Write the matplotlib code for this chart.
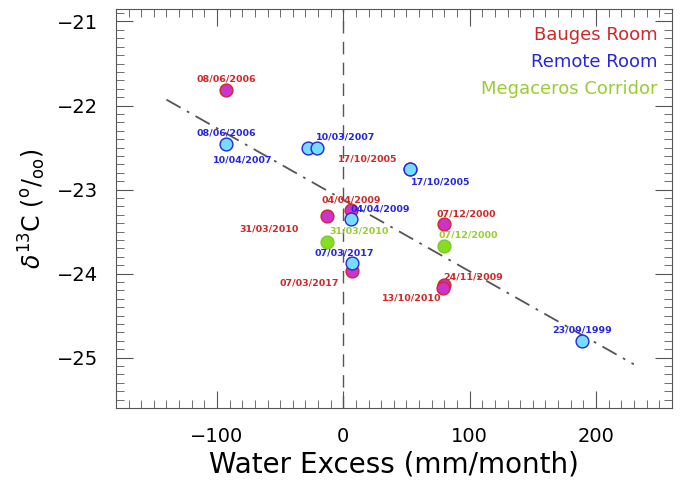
import numpy as np
import matplotlib
matplotlib.use("Agg")
import matplotlib.pyplot as plt
from matplotlib.ticker import MultipleLocator

# Bauges Room
bauges_dates = ['08/06/2006', '17/10/2005', '31/03/2010', '04/04/2009', '07/03/2017',
                '07/12/2000', '24/11/2009', '13/10/2010']
bauges_x = [-93, 53, -13, 6, 7, 80, 80, 79]
bauges_y = [-21.81, -22.75, -23.31, -23.24, -23.97, -23.41, -24.13, -24.17]

# Remote Room
remote_dates = ['08/06/2006', '10/04/2007', '10/03/2007', '17/10/2005', '04/04/2009',
                '07/03/2017', '23/09/1999']
remote_x = [-93, -28, -21, 53, 6, 7, 189]
remote_y = [-22.46, -22.51, -22.51, -22.75, -23.35, -23.87, -24.8]

# Megaceros Corridor
mega_dates = ['31/03/2010', '07/12/2000']
mega_x = [-13, 80]
mega_y = [-23.62, -23.67]

# regression line end points
fit_x = [-140, 230]
fit_y = [-21.93, -25.08]

# label offsets in pixels (dx, dy)
bauges_off = [(0, 11), (-43, 10), (-58, -13), (0, 10), (-43, -12), (22, 10), (29, 8), (-31, -10)]
remote_off = [(0, 11), (-65, -12), (29, 11), (30, -13), (29, 10), (-8, 10), (0, 11)]
mega_off = [(32, 11), (24, 11)]

red = '#d02828'
blue = '#2626e0'
green = '#9acd32'

fig = plt.figure(figsize=(6.82, 4.94), dpi=100)
ax = fig.add_axes([0.170, 0.174, 0.815, 0.808])

ax.axvline(0, color='#555555', lw=1.0, dashes=(9, 6), zorder=1)
ax.plot(fit_x, fit_y, color='#555555', lw=1.3, dashes=(9, 4, 1.5, 4), zorder=1)

ax.scatter(bauges_x, bauges_y, s=85, c='#cc33cc', edgecolors=red, linewidths=1.0, zorder=3)
ax.scatter(remote_x, remote_y, s=85, c='#77ddff', edgecolors=blue, linewidths=1.0, zorder=4)
ax.scatter(mega_x, mega_y, s=85, c='#88dd22', edgecolors='#77cc22', linewidths=1.0, zorder=5)

def label(xs, ys, dates, offs, col):
    for x, y, d, o in zip(xs, ys, dates, offs):
        ax.annotate(d, (x, y), xytext=o, textcoords='offset pixels', ha='center', va='center',
                    fontsize=6.8, fontweight='bold', color=col, zorder=6)

label(bauges_x, bauges_y, bauges_dates, bauges_off, red)
label(remote_x, remote_y, remote_dates, remote_off, blue)
label(mega_x, mega_y, mega_dates, mega_off, green)

ax.text(0.975, 0.935, 'Bauges Room', transform=ax.transAxes, ha='right', va='center', fontsize=13, color=red)
ax.text(0.975, 0.867, 'Remote Room', transform=ax.transAxes, ha='right', va='center', fontsize=13, color=blue)
ax.text(0.975, 0.799, 'Megaceros Corridor', transform=ax.transAxes, ha='right', va='center', fontsize=13, color=green)

ax.set_xlim(-180, 260)
ax.set_ylim(-25.6, -20.85)
ax.xaxis.set_major_locator(MultipleLocator(100))
ax.xaxis.set_minor_locator(MultipleLocator(10))
ax.yaxis.set_major_locator(MultipleLocator(1))
ax.yaxis.set_minor_locator(MultipleLocator(0.1))
ax.tick_params(which='both', direction='in', top=True, right=True, color='#555555')
ax.tick_params(which='major', length=12, labelsize=14)
ax.tick_params(axis='x', which='major', pad=14)
ax.tick_params(axis='y', which='major', pad=13)
ax.tick_params(which='minor', length=6)
for s in ax.spines.values():
    s.set_color('#555555')

ax.set_xlabel('Water Excess (mm/month)', fontsize=20, labelpad=3)
ax.set_ylabel(r'$\delta^{13}$C ($^{\mathrm{o}}$/$_{\mathrm{oo}}$)', fontsize=17, labelpad=6)

fig.savefig('out.png', dpi=100)
